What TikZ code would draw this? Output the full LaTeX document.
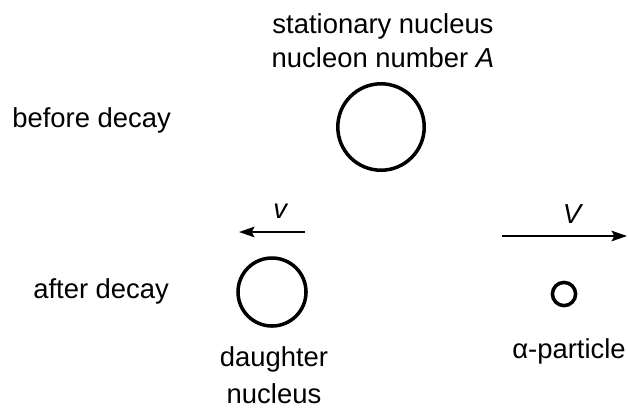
\documentclass[tikz,border=0pt]{standalone}
\usepackage{fontspec}
\setmainfont{Liberation Sans}
\usetikzlibrary{arrows.meta,positioning}

\begin{document}
\begin{tikzpicture}[x=0.025cm,y=-0.025cm,
  lbl/.style={anchor=base,inner sep=0pt,font=\fontsize{19.5}{24}\selectfont},
  nuc/.style={draw,circle,line width=2.5pt,inner sep=0pt},
  mov/.style={line width=1.5pt,-{Stealth[length=11pt,width=7.5pt,inset=2pt]}}]
\useasboundingbox (0,0) rectangle (628,410);
% nuclei
\node[nuc,minimum size=2.16cm] (P) at (381,127) {};
\node[nuc,minimum size=1.7cm] (D) at (272,292) {};
\node[nuc,minimum size=0.58cm] (Al) at (564,294) {};
% velocity arrows
\coordinate (D1) at (305,232);
\coordinate (D2) at (239,232);
\coordinate (A1) at (502,236);
\coordinate (A2) at (627,236);
\draw[mov] (D1) -- (D2);
\draw[mov] (A1) -- (A2);
\node[lbl] (v) at (281,218) {\textit{v}};
\node[lbl] (V) at (573,223) {\textit{V}};
% labels (base = last line)
\node[lbl,align=center] (Ptxt) at (383,67) {stationary nucleus\\nucleon number \textit{A}};
\node[lbl,anchor=base west] (bef) at (12,127) {before decay};
\node[lbl,anchor=base west] (aft) at (33,298) {after decay};
\node[lbl,align=center,font=\fontsize{19.5}{26}\selectfont] (Dtxt) at (274,403) {daughter\\nucleus};
\node[lbl,anchor=base west] (Atxt) at (512,358) {α-particle};
\end{tikzpicture}
\end{document}
